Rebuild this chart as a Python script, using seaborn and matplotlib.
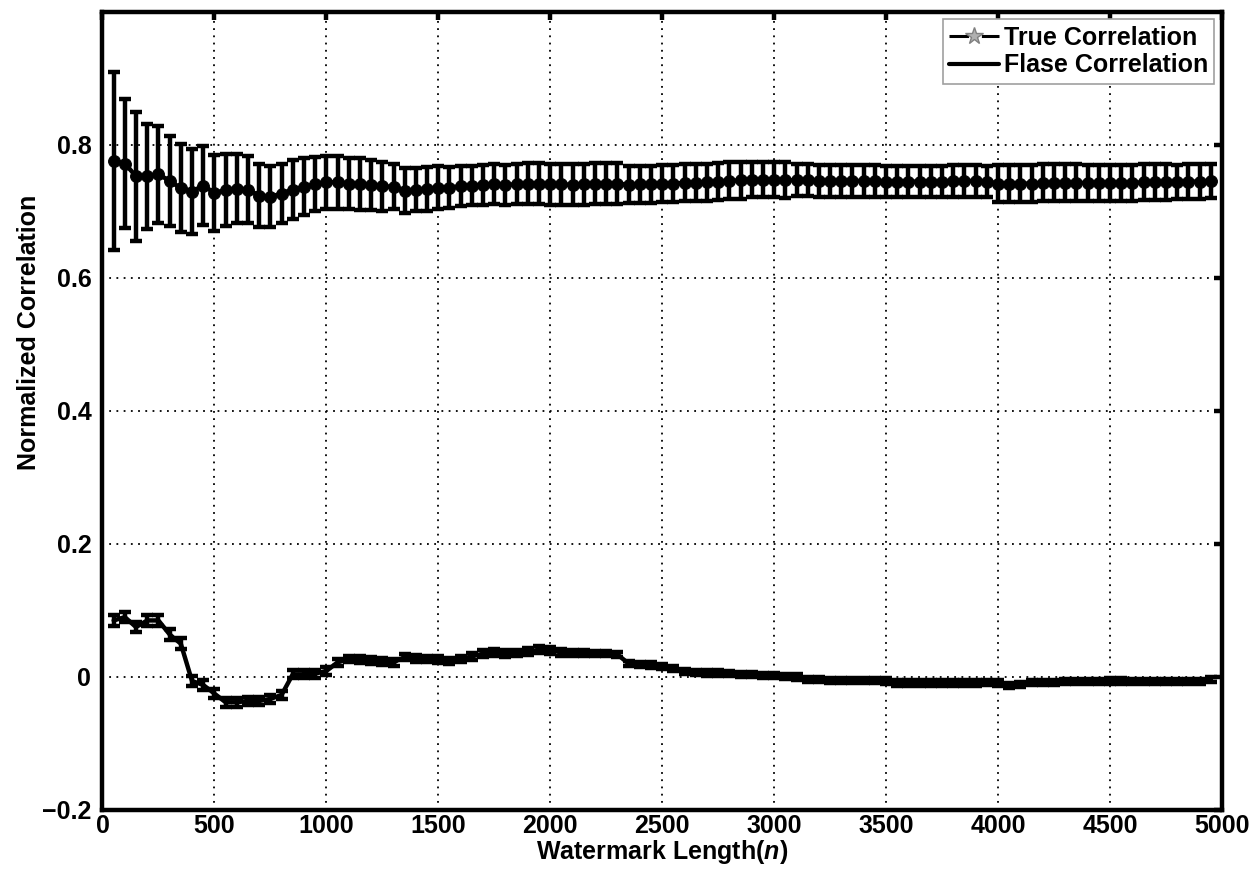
import numpy as np
import pandas as pd
import matplotlib
matplotlib.use('Agg')
import matplotlib.pyplot as plt
import seaborn as sns
from matplotlib.lines import Line2D

# ---------------- data ----------------
x_vals = list(range(50, 5000, 50))

true_mean = [
    0.776, 0.772, 0.753, 0.753, 0.756, 0.746, 0.735, 0.730, 0.739, 0.728,
    0.732, 0.734, 0.733, 0.724, 0.722, 0.727, 0.733, 0.737, 0.741, 0.744,
    0.744, 0.742, 0.741, 0.740, 0.738, 0.737, 0.731, 0.733, 0.734, 0.736,
    0.736, 0.738, 0.739, 0.740, 0.741, 0.740, 0.741, 0.742, 0.742, 0.741,
    0.741, 0.740, 0.741, 0.742, 0.742, 0.742, 0.740, 0.741, 0.741, 0.742,
    0.742, 0.743, 0.743, 0.744, 0.745, 0.746, 0.747, 0.748, 0.748, 0.748,
    0.747, 0.747, 0.747, 0.746, 0.746, 0.746, 0.746, 0.746, 0.746, 0.745,
    0.745, 0.745, 0.745, 0.745, 0.745, 0.746, 0.746, 0.746, 0.745, 0.742,
    0.742, 0.742, 0.742, 0.743, 0.743, 0.743, 0.743, 0.743, 0.743, 0.743,
    0.743, 0.743, 0.744, 0.744, 0.744, 0.744, 0.745, 0.745, 0.746,
]
true_err = [
    0.134, 0.097, 0.097, 0.079, 0.073, 0.068, 0.066, 0.064, 0.060, 0.057,
    0.054, 0.052, 0.050, 0.048, 0.046, 0.045, 0.044, 0.043, 0.041, 0.040,
    0.040, 0.039, 0.039, 0.038, 0.037, 0.034, 0.034, 0.033, 0.033, 0.032,
    0.031, 0.030, 0.030, 0.030, 0.030, 0.030, 0.030, 0.031, 0.031, 0.031,
    0.031, 0.031, 0.031, 0.031, 0.031, 0.031, 0.028, 0.028, 0.028, 0.028,
    0.028, 0.028, 0.028, 0.028, 0.028, 0.028, 0.028, 0.027, 0.027, 0.027,
    0.027, 0.024, 0.024, 0.024, 0.024, 0.024, 0.024, 0.024, 0.024, 0.024,
    0.024, 0.024, 0.024, 0.024, 0.024, 0.024, 0.024, 0.024, 0.024, 0.028,
    0.028, 0.028, 0.028, 0.028, 0.028, 0.028, 0.028, 0.027, 0.027, 0.027,
    0.027, 0.027, 0.027, 0.027, 0.027, 0.026, 0.026, 0.026, 0.026,
]
false_mean = [
    0.085, 0.090, 0.075, 0.085, 0.085, 0.064, 0.050, -0.006, -0.012, -0.025,
    -0.038, -0.038, -0.036, -0.036, -0.033, -0.027, 0.004, 0.004, 0.005, 0.009,
    0.022, 0.027, 0.026, 0.025, 0.023, 0.022, 0.030, 0.028, 0.027, 0.026,
    0.024, 0.027, 0.031, 0.035, 0.037, 0.035, 0.036, 0.038, 0.041, 0.040,
    0.037, 0.036, 0.036, 0.035, 0.035, 0.034, 0.020, 0.019, 0.018, 0.016,
    0.013, 0.008, 0.007, 0.006, 0.006, 0.005, 0.004, 0.004, 0.002, 0.002,
    0.001, 0.000, -0.004, -0.004, -0.005, -0.005, -0.005, -0.005, -0.005, -0.006,
    -0.009, -0.009, -0.009, -0.009, -0.009, -0.009, -0.009, -0.009, -0.008, -0.009,
    -0.013, -0.011, -0.008, -0.008, -0.008, -0.007, -0.007, -0.007, -0.007, -0.006,
    -0.006, -0.007, -0.007, -0.007, -0.007, -0.007, -0.007, -0.007, -0.004,
]
false_err = [
    0.008, 0.008, 0.008, 0.008, 0.008, 0.008, 0.008, 0.008, 0.007, 0.007,
    0.007, 0.007, 0.006, 0.006, 0.006, 0.006, 0.006, 0.006, 0.006, 0.006,
    0.005, 0.005, 0.005, 0.005, 0.005, 0.005, 0.005, 0.005, 0.005, 0.005,
    0.005, 0.005, 0.005, 0.005, 0.005, 0.005, 0.005, 0.005, 0.005, 0.005,
    0.005, 0.004, 0.004, 0.004, 0.004, 0.004, 0.004, 0.004, 0.004, 0.004,
    0.004, 0.004, 0.004, 0.004, 0.004, 0.004, 0.004, 0.004, 0.004, 0.004,
    0.004, 0.004, 0.004, 0.004, 0.004, 0.004, 0.004, 0.004, 0.004, 0.004,
    0.004, 0.004, 0.004, 0.004, 0.004, 0.004, 0.004, 0.004, 0.004, 0.004,
    0.004, 0.004, 0.004, 0.004, 0.004, 0.004, 0.004, 0.004, 0.004, 0.004,
    0.004, 0.004, 0.004, 0.004, 0.004, 0.004, 0.004, 0.004, 0.004,
]

x_ticks = [0, 500, 1000, 1500, 2000, 2500, 3000, 3500, 4000, 4500, 5000]
y_ticks = [-0.2, 0.0, 0.2, 0.4, 0.6, 0.8]
y_tick_labels = ['\u22120.2', '0', '0.2', '0.4', '0.6', '0.8']
legend_labels = ['True Correlation', 'Flase Correlation']
x_label = 'Watermark Length($n$)'
y_label = 'Normalized Correlation'

# ---------------- style ----------------
sns.set_style('white')
plt.rcParams['font.family'] = ['Liberation Sans', 'DejaVu Sans']
plt.rcParams['font.weight'] = 'bold'
plt.rcParams['axes.labelweight'] = 'bold'
plt.rcParams['text.color'] = 'black'
plt.rcParams['axes.labelcolor'] = 'black'
plt.rcParams['xtick.color'] = 'black'
plt.rcParams['ytick.color'] = 'black'
plt.rcParams['mathtext.fontset'] = 'custom'
plt.rcParams['mathtext.it'] = 'Liberation Sans:italic:bold'
plt.rcParams['mathtext.rm'] = 'Liberation Sans:bold'

df_true = pd.DataFrame({'n': x_vals, 'corr': true_mean, 'err': true_err})
df_false = pd.DataFrame({'n': x_vals, 'corr': false_mean, 'err': false_err})

fig = plt.figure(figsize=(12.57, 8.73), dpi=100)
ax = fig.add_axes([0.0815, 0.0722, 0.8906, 0.9141])

# error bars
ax.errorbar(df_true['n'], df_true['corr'], yerr=df_true['err'], fmt='none',
            ecolor='black', elinewidth=3.2, capsize=4.4, capthick=3.2, zorder=3)
ax.errorbar(df_false['n'], df_false['corr'], yerr=df_false['err'], fmt='none',
            ecolor='black', elinewidth=3.2, capsize=4.4, capthick=3.2, zorder=3)

# mean lines
sns.lineplot(data=df_true, x='n', y='corr', ax=ax, color='black', linewidth=3.2,
             marker='o', markersize=8.5, markeredgecolor='black', zorder=4,
             legend=False)
sns.lineplot(data=df_false, x='n', y='corr', ax=ax, color='black', linewidth=3.2,
             zorder=4, legend=False)

ax.set_xlim(0, 5000)
ax.set_ylim(-0.2, 1.0)
ax.set_xticks(x_ticks)
ax.set_xticklabels([str(t) for t in x_ticks])
ax.set_yticks(y_ticks)
ax.set_yticklabels(y_tick_labels)

ax.set_axisbelow(True)
ax.grid(True, linestyle=(0, (1, 3)), color='black', linewidth=1.3)

for s in ax.spines.values():
    s.set_linewidth(3.2)
    s.set_color('black')

ax.tick_params(axis='both', direction='in', length=6, width=3.2,
               top=True, right=True, labelsize=18, colors='black')
ax.tick_params(axis='x', pad=3)
ax.tick_params(axis='y', pad=8)

ax.set_xlabel(x_label, fontsize=18, fontweight='bold', labelpad=0, color='black')
ax.set_ylabel(y_label, fontsize=18, fontweight='bold', labelpad=4, color='black')
ax.yaxis.set_label_coords(-0.055, 0.598)

handles = [
    Line2D([0], [0], color='black', lw=2.2, linestyle='-.', marker='*',
           markersize=13, markerfacecolor='#b0b0b0', markeredgecolor='#808080'),
    Line2D([0], [0], color='black', lw=3),
]
leg = ax.legend(handles, legend_labels, loc='upper right', fontsize=18,
                frameon=True, fancybox=False, framealpha=1, edgecolor='#a0a0a0',
                handlelength=2.0, handletextpad=0.2, labelspacing=0.15,
                borderpad=0.25, borderaxespad=0.3)
leg.get_frame().set_linewidth(1.2)
for t in leg.get_texts():
    t.set_fontweight('bold')
    t.set_color('black')

fig.savefig('out.png', dpi=100)
